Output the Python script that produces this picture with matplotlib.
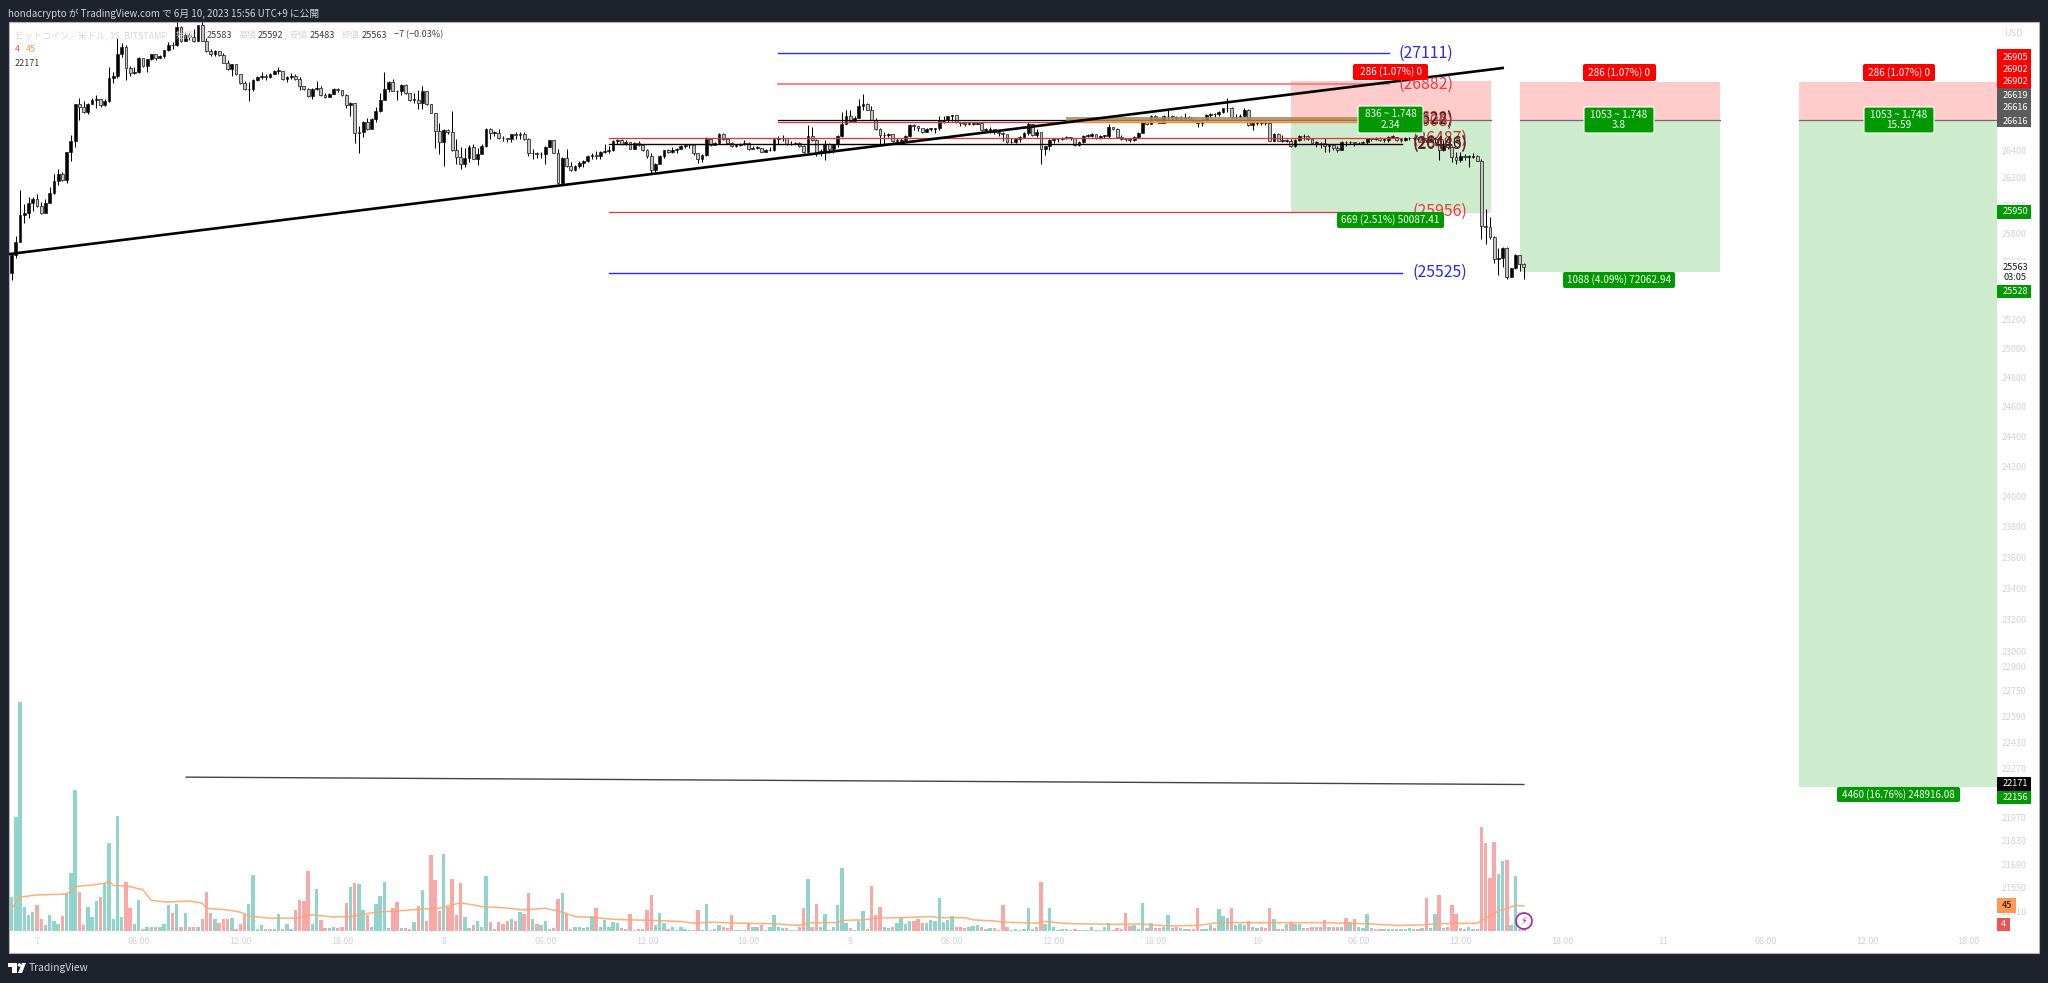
import numpy as np
from matplotlib import pyplot as plt
from matplotlib.patches import Rectangle, FancyBboxPatch, Circle, Polygon
from matplotlib.ticker import NullFormatter, NullLocator

plt.rcParams['font.family'] = ['Noto Sans CJK JP', 'DejaVu Sans']

#------------------------data------------------------------
first_bar = -6   # bars are 15 min, bar 0 = the 7th 00:00
first_open = 25524
closes = [25646,25743,25933,25950,26018,26045,25996,25950,26015,26091,26173,26229,26181,26385,26467,26740,26715,26679,26740,26764,26776,26727,26759,26929,26946,27109,27157,27002,26965,26970,27080,27019,27068,27104,27075,27089,27136,27177,27172,27311,27201,27250,27238,27201,27323,27206,27128,27109,27133,27097,27043,26995,27031,26958,26893,26844,26849,26914,26934,26944,26939,26958,26982,26982,26922,26934,26946,26922,26866,
    26848,26795,26848,26855,26802,26790,26814,26848,26843,26802,26729,26741,26523,26532,26605,26552,26629,26685,26763,26848,26902,26836,26831,26877,26819,26766,26766,26741,26831,26734,26673,26540,26459,26547,26532,26399,26350,26297,26345,26425,26338,26369,26430,26557,26527,26527,26491,26486,26479,26515,26508,26515,26479,26377,26377,26369,26369,26425,26472,26382,26163,26345,26284,26255,26284,26309,26321,26357,26362,26357,26386,26394,26401,26467,26472,26442,26459,26411,26455,26435,
    26400,26357,26253,26301,26357,26398,26386,26400,26410,26429,26434,26434,26381,26337,26364,26478,26434,26453,26519,26478,26453,26429,26434,26441,26453,26405,26417,26417,26388,26400,26400,26478,26485,26490,26441,26446,26453,26429,26386,26502,26473,26381,26393,26446,26405,26441,26502,26591,26647,26611,26635,26720,26737,26695,26623,26550,26509,26509,26519,26466,26466,26470,26502,26582,26575,26562,26531,26555,26555,26558,26611,26623,26647,26654,26604,
    26595,26590,26590,26590,26600,26547,26547,26554,26535,26527,26518,26457,26457,26481,26498,26522,26588,26510,26530,26406,26426,26474,26479,26481,26486,26493,26491,26438,26462,26503,26505,26518,26486,26503,26505,26571,26551,26493,26481,26479,26474,26498,26522,26602,26588,26648,26626,26600,26648,26648,26639,26631,26631,26643,26619,26614,26595,26619,26655,26663,26660,26680,26704,26711,26639,26643,26648,26692,26583,26600,26600,
    26599,26594,26468,26517,26468,26468,26468,26430,26473,26502,26502,26478,26454,26454,26449,26430,26437,26413,26401,26461,26456,26456,26449,26454,26456,26485,26480,26490,26473,26473,26497,26497,26473,26473,26485,26485,26490,26478,26485,26473,26478,26485,26401,26437,26425,26352,26328,26357,26352,26352,26357,26323,25856,25846,25776,25619,25626,25699,25493,25554,25650,25583,25563]
highs = [25658,25780,26113,26010,26059,26064,26083,26023,26047,26132,26229,26266,26241,26385,26509,26740,26783,26757,26744,26783,26800,26776,26776,27007,26970,27230,27189,27177,27019,27007,27085,27072,27072,27109,27109,27097,27140,27196,27196,27347,27318,27274,27262,27298,27328,27347,27225,27145,27140,27133,27111,27065,27036,27031,26958,26910,26897,26919,26944,26975,26958,26963,26990,27007,26978,26946,26963,26958,26934,
    26868,26853,26853,26904,26868,26819,26819,26853,26855,26836,26807,26751,26746,26576,26610,26634,26637,26715,26819,26975,26906,26921,26843,26882,26887,26819,26819,26843,26868,26834,26734,26673,26600,26552,26552,26685,26479,26423,26418,26435,26442,26418,26442,26561,26564,26540,26552,26503,26491,26520,26532,26532,26532,26491,26406,26387,26387,26430,26476,26476,26411,26350,26406,26314,26289,26321,26326,26362,26377,26394,26391,26442,26430,26472,26479,26479,26472,26459,26459,26467,
    26446,26405,26378,26306,26362,26403,26410,26424,26417,26437,26441,26441,26427,26378,26369,26495,26475,26461,26524,26526,26475,26458,26446,26453,26470,26458,26429,26427,26417,26408,26424,26483,26502,26507,26483,26466,26461,26458,26439,26582,26567,26483,26405,26470,26451,26446,26507,26679,26695,26695,26647,26775,26812,26741,26725,26635,26562,26531,26524,26519,26490,26485,26507,26587,26587,26577,26555,26562,26562,26562,26647,26647,26652,26659,26652,
    26600,26600,26600,26605,26607,26600,26559,26566,26554,26542,26532,26503,26486,26486,26503,26534,26602,26593,26551,26527,26430,26479,26484,26491,26498,26503,26498,26484,26467,26510,26518,26527,26508,26510,26513,26588,26571,26564,26508,26488,26486,26503,26532,26607,26607,26653,26653,26636,26653,26692,26653,26648,26648,26672,26648,26624,26614,26624,26660,26672,26672,26687,26709,26781,26716,26663,26663,26704,26697,26619,26614,
    26618,26618,26599,26522,26526,26507,26483,26478,26478,26512,26517,26512,26483,26468,26461,26485,26442,26442,26430,26466,26468,26466,26459,26461,26464,26490,26488,26497,26497,26488,26502,26507,26495,26485,26493,26493,26497,26493,26497,26488,26488,26493,26485,26473,26449,26430,26388,26388,26369,26364,26376,26362,26333,25972,25917,25783,25699,25704,25704,25558,25655,25650,25592]
lows = [25476,25627,25767,25877,25908,25962,25991,25942,25957,26047,26083,26144,26173,26164,26319,26419,26618,26671,26662,26735,26710,26715,26720,26752,26893,26929,27085,26914,26946,26958,26965,27014,26970,27060,27060,27075,27080,27128,27148,27165,27196,27201,27213,27196,27208,27201,27123,27092,27092,27092,27038,26990,26946,26953,26888,26839,26757,26832,26905,26922,26914,26929,26958,26958,26917,26897,26922,26917,26842,
    26838,26790,26775,26843,26797,26783,26785,26809,26824,26797,26710,26649,26455,26377,26493,26547,26595,26603,26680,26783,26826,26831,26766,26802,26814,26761,26746,26697,26697,26729,26668,26418,26369,26284,26515,26394,26297,26260,26280,26316,26333,26289,26389,26420,26484,26503,26484,26467,26459,26462,26479,26479,26474,26357,26338,26345,26345,26297,26420,26377,26158,26153,26280,26250,26250,26267,26275,26311,26338,26338,26335,26382,26377,26396,26442,26437,26435,26406,26406,26430,
    26395,26345,26236,26243,26296,26345,26381,26381,26381,26417,26417,26412,26364,26308,26316,26359,26429,26437,26441,26473,26449,26424,26422,26429,26437,26398,26412,26408,26383,26388,26393,26393,26441,26466,26437,26434,26441,26424,26381,26388,26468,26357,26357,26325,26381,26376,26424,26497,26587,26606,26616,26635,26695,26691,26618,26545,26441,26446,26497,26461,26461,26456,26466,26495,26545,26538,26526,26533,26538,26526,26548,26599,26606,26611,26599,
    26576,26576,26580,26583,26588,26542,26530,26525,26518,26505,26467,26452,26452,26452,26457,26488,26510,26505,26498,26297,26365,26401,26452,26462,26474,26479,26474,26433,26428,26450,26493,26498,26481,26484,26491,26486,26547,26488,26476,26464,26457,26469,26493,26525,26583,26590,26622,26595,26602,26619,26619,26619,26617,26624,26614,26602,26571,26578,26610,26643,26643,26651,26668,26680,26634,26624,26631,26639,26578,26547,26580,
    26580,26580,26464,26464,26464,26461,26456,26425,26425,26468,26473,26473,26449,26425,26413,26388,26388,26401,26388,26401,26430,26444,26430,26444,26449,26447,26468,26473,26468,26461,26456,26488,26468,26461,26468,26473,26473,26468,26468,26461,26464,26449,26328,26396,26405,26316,26299,26311,26328,26280,26340,26318,25759,25723,25759,25590,25510,25561,25481,25500,25549,25534,25483]
volume = [61,206,412,43,28,34,46,22,10,28,18,12,27,69,105,254,70,10,43,25,54,61,87,159,21,207,25,88,41,12,55,4,8,8,7,7,13,47,33,49,8,33,8,8,8,21,70,32,21,15,21,22,24,4,13,30,49,101,3,10,3,3,4,30,3,12,3,38,55,54,108,12,75,19,6,6,8,5,7,51,79,87,84,38,28,8,48,63,88,6,41,52,6,6,4,16,45,73,18,137,92,36,138,44,93,28,87,25,6,10,18,7,99,16,3,16,13,18,22,18,34,30,68,21,12,10,18,4,6,57,
    69,30,4,7,7,5,8,27,41,7,19,7,16,15,5,3,30,2,4,4,38,64,10,32,15,4,8,2,7,4,1,2,38,2,49,2,4,10,8,5,28,2,2,2,15,7,8,10,2,8,28,8,5,5,2,2,7,42,93,8,48,7,30,2,7,46,114,15,5,2,18,36,4,81,28,43,7,5,8,15,25,12,18,18,22,15,15,19,18,60,16,19,27,7,7,5,7,9,10,7,4,5,5,2,47,8,2,4,2,4,42,4,7,88,13,41,7,2,4,4,2,4,2,2,2,8,2,2,7,15,2,5,
    4,32,9,10,4,51,6,15,5,6,8,28,5,7,5,4,4,4,42,4,4,10,5,39,27,24,41,10,13,10,18,7,5,8,6,41,22,4,4,13,16,12,12,6,5,8,8,8,19,7,8,8,8,24,16,21,8,6,30,5,4,4,3,3,4,3,3,3,5,4,4,5,59,5,30,64,5,7,47,31,5,3,7,3,4,188,158,96,160,102,126,128,10,99,3,4]
ma_bars = [-6,-5,-4,0,5,7,8,9,12,16,17,18,22,25,27,31,36,39,40,45,48,50,55,61,65,70,75,80,85,90,95,100,105,110,115,120,124,127,132,136,145,149,152,155,159,166,174,180,183,189,190,195,198,208,211,213,219,221,226,228,236,238,242,245,255,260,267,274,279,287,303,314,321,327,330,340,345,349,351]
ma_values = [40,51,61,65,66,67,71,80,82,86,90,82,80,74,55,52,54,50,41,38,34,27,23,23,29,25,27,34,36,39,41,51,44,42,38,41,34,26,24,21,19,18,17,14,16,14,13,10,15,15,19,20,23,25,26,24,24,20,18,16,14,17,14,13,12,13,9,10,15,15,15,13,10,11,13,14,36,46,45]

# drawing tools on the chart: (bar from, bar to, price)
blue_lines = [(175, 319.2, 27111), (135, 322.2, 25525)]
red_lines = [(175, 319.2, 26608), (135, 322.2, 26487), (135, 322.2, 26446), (135, 322.2, 25956)]
pink_lines = [(175, 319.2, 26882)]
black_lines = [(175, 319.2, 26622), (135, 322.2, 26443)]
trend_bars = [-6.6, 346]
trend_prices = [25655, 27003]
low_line_bars = [35.2, 351]
low_line_prices = [22216, 22171]
# position tools: bar from, bar to, stop, entry, target
positions = [(296, 343.2, 26905, 26619, 25950),
             (350, 397.3, 26902, 26616, 25528),
             (416, 462.7, 26902, 26616, 22156)]

price_ticks = [26400,26200,26000,25800,25600,25400,25200,25000,24800,24600,24400,24200,24000,23800,23600,23400,23200,23000,22900,22750,22590,22430,22270,21970,21830,21690,21550,21410]
time_ticks = [0,24,48,72,96,120,144,168,192,216,240,264,288,312,336,360,384,408,432,456]
time_labels = ['7','06:00','12:00','18:00','8','06:00','12:00','18:00','9','06:00','12:00','18:00','10','06:00','12:00','18:00','11','06:00','12:00','18:00']

#------------------------figure------------------------------
W, H = 2048, 983
fig = plt.figure(figsize=(W/100, H/100), dpi=100, facecolor='#1e222d')
def rect(x0, y0, x1, y1):
    return [x0/W, 1-y1/H, (x1-x0)/W, (y1-y0)/H]

fig.add_artist(Rectangle((9/W, 1-953/H), 2030/W, 931/H, transform=fig.transFigure, fc='white', ec='#b2b5be', lw=0.8))

vol_ax = fig.add_axes(rect(9, 22, 1997, 931), facecolor='none', zorder=1)
ax = fig.add_axes(rect(9, 22, 1997, 931), facecolor='none', zorder=2)
ov = fig.add_axes([0, 0, 1, 1], facecolor='none', zorder=3)
ov.set_xlim(0, W)
ov.set_ylim(H, 0)
ov.axis('off')

bars = np.arange(first_bar, first_bar+len(closes))
closes = np.array(closes, float)
opens = np.r_[first_open, closes[:-1]]
highs = np.array(highs, float)
lows = np.array(lows, float)
up = closes >= opens

#------------------------volume------------------------------
vol_colors = np.where(up, '#92d3cc', '#f8a9a7')
vol_ax.bar(bars, volume, width=0.8, color=vol_colors, lw=0)
vol_ax.plot(ma_bars, ma_values, color='#ffa66b', lw=1.1, alpha=0.9)
vol_ax.set_xlim(-6.61, 462.7)
vol_ax.set_ylim(0, 1636)
vol_ax.axis('off')

#------------------------position tools------------------------------
for b0, b1, stop, entry, target in positions:
    ax.fill_between([b0, b1], entry, stop, color='#ffcccc', lw=0, zorder=1)
    ax.fill_between([b0, b1], target, entry, color='#cdeccd', lw=0, zorder=1)
    ax.plot([b0, b1], [entry, entry], color='#6b6b6b', lw=0.9, zorder=1.5)

#------------------------candles------------------------------
ax.vlines(bars, lows, highs, color='black', lw=0.75, zorder=3)
bottoms = np.minimum(opens, closes)
heights = np.abs(closes-opens)
ax.bar(bars[up], np.maximum(heights[up], 4), bottom=bottoms[up], width=0.66, color='black', ec='black', lw=0.4, zorder=4)
ax.bar(bars[~up], np.maximum(heights[~up], 4), bottom=bottoms[~up], width=0.66, color='#c4c4c4', ec='#333333', lw=0.6, zorder=4)

#------------------------lines------------------------------
for b0, b1, p in blue_lines:
    ax.plot([b0, b1], [p, p], color='#2a2af0', lw=1.0, zorder=5)
for b0, b1, p in red_lines:
    ax.plot([b0, b1], [p, p], color='#f02e3a', lw=0.9, zorder=5)
for b0, b1, p in pink_lines:
    ax.plot([b0, b1], [p, p], color='#ff8080', lw=1.4, zorder=5)
for b0, b1, p in black_lines:
    ax.plot([b0, b1], [p, p], color='black', lw=0.9, zorder=5)
ax.fill_between([243, 312], 26614, 26643, color='#a88a5a', alpha=0.85, lw=0, zorder=5)
ax.fill_between([243, 312], 26594, 26612, color='#f5a040', alpha=0.85, lw=0, zorder=5)
ax.plot(trend_bars, trend_prices, color='black', lw=1.9, zorder=6)
ax.plot(low_line_bars, low_line_prices, color='#444444', lw=1.0, zorder=6)

level_text = [(321.3, 27111, '#2a2af0'), (321.3, 26882, '#f23645'), (321.3, 26628, '#b0302a'), (321.3, 26622, '#202020'),
              (321.3, 26608, '#c0302a'), (324.6, 26487, '#c0302a'), (324.6, 26446, '#202020'), (324.6, 26443, '#702020'),
              (324.6, 25956, '#f23645'), (324.6, 25525, '#2a2af0')]
for b, p, c in level_text:
    ax.text(b, p, '(%d)' % p, color=c, fontsize=11.4, va='center', ha='left', zorder=7)

#------------------------axes------------------------------
ax.set_yscale('log')
ax.set_xlim(-6.61, 462.7)
ax.set_ylim(21295, 27347)
ax.yaxis.tick_right()
ax.yaxis.set_minor_locator(NullLocator())
ax.yaxis.set_minor_formatter(NullFormatter())
ax.set_yticks(price_ticks)
ax.set_yticklabels([str(p) for p in price_ticks])
ax.set_xticks(time_ticks)
ax.set_xticklabels(time_labels)
ax.tick_params(axis='both', length=0, labelsize=6.4, labelcolor='#cfd2d8')
ax.tick_params(axis='y', pad=3.5)
ax.tick_params(axis='x', pad=4.5)
for s in ax.spines.values():
    s.set_visible(False)

#------------------------labels on top------------------------------
def tag(x0, y0, x1, y1, color, text, edge='none', fs=7.2, round_size=2):
    ov.add_patch(FancyBboxPatch((x0, y0), x1-x0, y1-y0, boxstyle='round,pad=0,rounding_size=%g' % round_size, fc=color, ec=edge, lw=0.8))
    ov.text((x0+x1)/2, (y0+y1)/2, text, color='white', fontsize=fs, ha='center', va='center', linespacing=1.05)

GREEN = '#009900'
tag(1353, 64, 1428, 80, '#ff0000', '286 (1.07%) 0')
tag(1358, 106, 1423, 133, GREEN, '836 ~ 1.748\n2.34', edge='white')
tag(1337, 212, 1444, 228, GREEN, '669 (2.51%) 50087.41')
tag(1583, 64, 1656, 81, '#ff0000', '286 (1.07%) 0')
tag(1584, 107, 1654, 133, GREEN, '1053 ~ 1.748\n3.8', edge='white')
tag(1563, 272, 1675, 288, GREEN, '1088 (4.09%) 72062.94')
tag(1863, 64, 1935, 81, '#ff0000', '286 (1.07%) 0')
tag(1864, 107, 1934, 133, GREEN, '1053 ~ 1.748\n15.59', edge='white')
tag(1837, 787, 1960, 802, GREEN, '4460 (16.76%) 248916.08', fs=7)

# price scale boxes
def scale_box(y0, y1, color, x1=2031):
    ov.add_patch(Rectangle((1997, y0), x1-1997, y1-y0, fc=color, lw=0))
def scale_text(y, text, color='white', x=2015, weight='normal'):
    ov.text(x, y, text, color=color, fontsize=6.6, ha='center', va='center', weight=weight)

scale_box(49, 88, '#ff0000')
scale_box(88, 127, '#5b5b5b')
for y, t in zip([57, 69, 82, 95, 108, 121], ['26905', '26902', '26902', '26619', '26616', '26616']):
    scale_text(y, t)
scale_box(205, 219, GREEN)
scale_text(212, '25950')
ov.add_patch(Rectangle((1997, 260), 34, 25, fc='white', lw=0))
scale_text(267, '25563', '#131722')
scale_text(278, '03:05', '#131722')
scale_box(285, 298, GREEN)
scale_text(291.5, '25528')
scale_box(777, 791, 'black')
scale_text(784, '22171')
scale_box(791, 804, GREEN)
scale_text(797.5, '22156')
scale_box(898, 913, '#ff9850', x1=2016)
scale_text(905.5, '45', '#131722', x=2006.5)
scale_box(918, 931, '#f0524f', x1=2010)
scale_text(924.5, '4', x=2003.5)
scale_text(33, 'USD', '#cfd2d8', x=2013)

# top legend
legend_parts = [(15, 'ビットコイン／米ドル, 15, BITSTAMP', '#d6d6d6'), (176, '始値', '#d6d6d6'), (207, '25583', '#3a3a3a'),
                (238, '高値', '#d6d6d6'), (258, '25592', '#3a3a3a'), (290, '安値', '#d6d6d6'), (310, '25483', '#3a3a3a'),
                (342, '終値', '#d6d6d6'), (362, '25563', '#3a3a3a'), (394, '−7 (−0.03%)', '#3a3a3a')]
for x, t, c in legend_parts:
    ov.text(x, 35, t, color=c, fontsize=6.5, va='center', ha='left')
ov.text(15, 49, '4', color='#f0524f', fontsize=6.5, va='center')
ov.text(26, 49, '45', color='#ff9850', fontsize=6.5, va='center')
ov.text(15, 63, '22171', color='#3a3a3a', fontsize=6.5, va='center')

ov.text(8, 14, 'hondacrypto が TradingView.com で 6月 10, 2023 15:56 UTC+9 に公開', color='#d1d4dc', fontsize=7.0, va='center')

# footer logo
ov.add_patch(Rectangle((8, 963), 9, 4, fc='white', lw=0))
ov.add_patch(Rectangle((12, 963), 5, 10, fc='white', lw=0))
ov.add_patch(Circle((19.5, 965), 1.8, fc='white', lw=0))
ov.add_patch(Polygon([[22, 963], [26, 963], [22, 973], [18, 973]], fc='white', lw=0))
ov.text(29, 968, 'TradingView', color='#d1d4dc', fontsize=7.4, va='center')

# lightning mark
ov.add_patch(Circle((1524, 921), 8, fc='white', ec='#9c27b0', lw=1.2))
ov.text(1524, 921, '⚡', color='#9c27b0', fontsize=7, ha='center', va='center', family='DejaVu Sans')

fig.savefig('out.png', dpi=100, facecolor=fig.get_facecolor())
